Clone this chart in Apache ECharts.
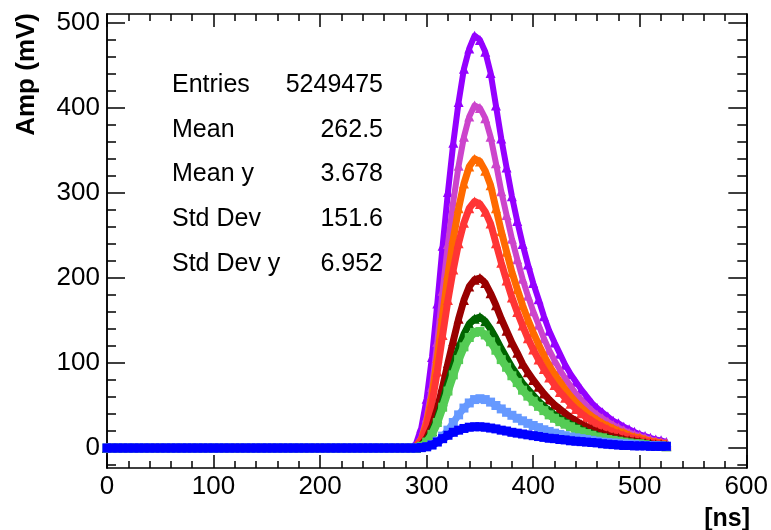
<!DOCTYPE html>
<html><head><meta charset="utf-8">
<script src="https://cdn.jsdelivr.net/npm/echarts@6/dist/echarts.min.js"></script>
<style>html,body{margin:0;padding:0;background:#fff}#c{width:771px;height:530px}</style>
</head><body><div id="c"></div>
<script>
// sample times (ns)
const timeNs = [
0,5,10,15,20,25,30,35,40,45,
50,55,60,65,70,75,80,85,90,95,
100,105,110,115,120,125,130,135,140,145,
150,155,160,165,170,175,180,185,190,195,
200,205,210,215,220,225,230,235,240,245,
250,255,260,265,270,275,280,285,290,295,
300,305,310,315,320,325,330,335,340,345,
350,355,360,365,370,375,380,385,390,395,
400,405,410,415,420,425,430,435,440,445,
450,455,460,465,470,475,480,485,490,495,
500,505,510,515,520,525];

const ampViolet = [
0,0,0,0,0,0,0,0,0,0, 0,0,0,0,0,0,0,0,0,0, 0,0,0,0,0,0,0,0,0,0, 0,0,0,0,0,0,0,0,0,0, 0,0,0,0,0,0,0,0,0,0, 0,0,0,0,0,0,0,0,
5,24,58,107,170,238,301,359,407,446,470,485,480,466,441,403,364,330,296,267,240,216,194,175,155,138,124,111,98,87,78,69,61,53,47,42,37,32,29,25,22,19,16,14,12,10,9,7];
const ampMagenta = [
0,0,0,0,0,0,0,0,0,0, 0,0,0,0,0,0,0,0,0,0, 0,0,0,0,0,0,0,0,0,0, 0,0,0,0,0,0,0,0,0,0, 0,0,0,0,0,0,0,0,0,0, 0,0,0,0,0,0,0,0,
2,12,36,72,125,185,240,290,332,366,390,403,400,388,366,335,302,274,246,222,199,179,161,145,129,115,103,92,82,73,64,57,50,44,39,35,31,27,24,21,18,16,14,12,10,8,7,6];
const ampOrange = [
0,0,0,0,0,0,0,0,0,0, 0,0,0,0,0,0,0,0,0,0, 0,0,0,0,0,0,0,0,0,0, 0,0,0,0,0,0,0,0,0,0, 0,0,0,0,0,0,0,0,0,0, 0,0,0,0,0,0,0,0,
2,10,30,62,106,156,204,246,282,311,331,340,337,326,309,282,255,231,207,187,168,151,136,122,109,97,87,78,69,61,54,48,42,37,33,29,26,23,20,18,15,13,12,10,8,7,6,5];
const ampRed = [
0,0,0,0,0,0,0,0,0,0, 0,0,0,0,0,0,0,0,0,0, 0,0,0,0,0,0,0,0,0,0, 0,0,0,0,0,0,0,0,0,0, 0,0,0,0,0,0,0,0,0,0, 0,0,0,0,0,0,0,0,
2,9,26,53,90,133,174,210,241,265,282,290,287,278,264,241,218,197,177,160,144,129,116,104,93,83,74,66,59,52,46,41,36,32,28,25,22,19,17,15,13,11,10,8,7,6,5,4];
const ampDarkRed = [
0,0,0,0,0,0,0,0,0,0, 0,0,0,0,0,0,0,0,0,0, 0,0,0,0,0,0,0,0,0,0, 0,0,0,0,0,0,0,0,0,0, 0,0,0,0,0,0,0,0,0,0, 0,0,0,0,0,0,0,0,
0,4,12,26,46,72,100,126,152,174,190,198,200,194,182,168,152,138,124,112,99,89,80,72,64,57,51,46,41,36,32,28,25,22,19,17,15,13,12,10,9,8,7,6,5,4,4,3];
const ampDarkGreen = [
0,0,0,0,0,0,0,0,0,0, 0,0,0,0,0,0,0,0,0,0, 0,0,0,0,0,0,0,0,0,0, 0,0,0,0,0,0,0,0,0,0, 0,0,0,0,0,0,0,0,0,0, 0,0,0,0,0,0,0,0,
0,3,9,20,35,55,77,97,117,134,146,152,154,149,140,129,117,106,95,86,76,69,62,55,49,44,39,35,31,28,25,22,19,17,15,13,12,10,9,8,7,6,5,5,4,3,3,2];
const ampLightGreen = [
0,0,0,0,0,0,0,0,0,0, 0,0,0,0,0,0,0,0,0,0, 0,0,0,0,0,0,0,0,0,0, 0,0,0,0,0,0,0,0,0,0, 0,0,0,0,0,0,0,0,0,0, 0,0,0,0,0,0,0,0,
0,2,7,16,30,48,67,86,104,119,130,136,137,133,125,115,104,95,85,77,68,61,55,49,44,39,35,31,28,25,22,19,17,15,13,12,10,9,8,7,6,5,5,4,3,3,2,2];
const ampLightBlue = [
0,0,0,0,0,0,0,0,0,0, 0,0,0,0,0,0,0,0,0,0, 0,0,0,0,0,0,0,0,0,0, 0,0,0,0,0,0,0,0,0,0, 0,0,0,0,0,0,0,0,0,0, 0,0,0,0,0,0,0,0,
0,0.5,1.5,4,8,14,21,30,39,47,53,57,58,57,54,50,46,42,38.5,35,32,29,26.5,24,21.5,19.5,17.5,16,14.5,13,12,11,10,9,8,7,6.5,6,5.5,5,4.5,4,3.5,3,3,2.5,2.5,2];
const ampBlue = [
0,0,0,0,0,0,0,0,0,0, 0,0,0,0,0,0,0,0,0,0, 0,0,0,0,0,0,0,0,0,0, 0,0,0,0,0,0,0,0,0,0, 0,0,0,0,0,0,0,0,0,0, 0,0,0,0,0,0,0,0,
0,0.5,1.5,3.5,7,11,15,18.5,21,23,24.5,25,25,24.5,23.5,22.5,21,20,18.5,17.5,16.5,15.5,14.5,13.5,12.5,11.5,11,10,9.5,8.5,8,7.5,7,6.5,6,5,4.5,4,3.5,3,3,2.5,2.5,2.5,2,2,2,2];

const seriesNames = ['violet','magenta','orange','red','darkred','darkgreen','lightgreen','lightblue','blue'];
const seriesValues = [ampViolet, ampMagenta, ampOrange, ampRed, ampDarkRed, ampDarkGreen, ampLightGreen, ampLightBlue, ampBlue];

const xTickLabels = [0,100,200,300,400,500,600];
const yMajorTicks = [0,100,200,300,400,500];
const yMinorTicks = [-20,20,40,60,80,120,140,160,180,220,240,260,280,320,340,360,380,420,440,460,480];

const statNames = ['Entries','Mean','Mean y','Std Dev','Std Dev y'];
const statValues = ['5249475','262.5','3.678','151.6','6.952'];

// styles
const colors = ['#9400ff','#cc44cc','#ff6a00','#ff3535','#990000','#006400','#55cc55','#6699ff','#0000ff'];
const symbols = ['triangle','triangle','triangle','triangle','triangle','triangle','rect','rect','rect'];
const sizes = [10,10,10,10,10,10,9,9,9];
const widths = [6,6,7,7,7,7,8,7,8];
const FONT = '"Liberation Sans", Arial, Helvetica, sans-serif';
const BLK = '#000';

const chart = echarts.init(document.getElementById('c'), null, {renderer:'canvas'});

const series = seriesValues.map((vals, k) => ({
  type: 'line',
  name: seriesNames[k],
  data: timeNs.map((x, i) => [x, vals[i]]),
  showSymbol: true,
  showAllSymbol: true,
  symbol: symbols[k],
  symbolSize: sizes[k],
  itemStyle: {color: colors[k], opacity: 1},
  lineStyle: {color: colors[k], width: widths[k], join: 'round'},
  xAxisIndex: 0, yAxisIndex: 0,
  silent: true,
  z: 2 + k
}));

const yMin = -23.5, yMax = 510.5;
function yAx(pos, ticks, len, labels) {
  return {
    type: 'value', min: yMin, max: yMax, position: pos,
    axisLine: {show: true, onZero: false, lineStyle: {color: BLK, width: 1.5}},
    axisTick: {show: true, inside: true, length: len, customValues: ticks, lineStyle: {color: BLK, width: 1.5}},
    axisLabel: labels ? {show: true, customValues: ticks, color: BLK, fontSize: 26, fontFamily: FONT, margin: 7} : {show: false},
    splitLine: {show: false}, minorTick: {show: false}
  };
}
function xAx(pos, labels) {
  return {
    type: 'value', min: 0, max: 600, interval: 100, position: pos,
    axisLine: {show: true, onZero: false, lineStyle: {color: BLK, width: 1.5}},
    axisTick: {show: true, inside: true, length: 13, lineStyle: {color: BLK, width: 1.5}},
    minorTick: {show: true, splitNumber: 5, length: 7, lineStyle: {color: BLK, width: 1.5}},
    axisLabel: labels ? {show: true, color: BLK, fontSize: 26, fontFamily: FONT, margin: 6,
      formatter: v => (xTickLabels.indexOf(v) >= 0 ? String(v) : '')} : {show: false},
    splitLine: {show: false}
  };
}

const graphics = [];
statNames.forEach((s, i) => {
  const y = 85 + i * 44.8;
  graphics.push({type: 'text', x: 172, y: y, silent: true,
    style: {text: s, fill: BLK, font: '25px ' + FONT, textAlign: 'left', textVerticalAlign: 'middle'}});
  graphics.push({type: 'text', x: 383, y: y, silent: true,
    style: {text: statValues[i], fill: BLK, font: '25px ' + FONT, textAlign: 'right', textVerticalAlign: 'middle'}});
});
graphics.push({type: 'text', x: 750, y: 519, silent: true,
  style: {text: '[ns]', fill: BLK, font: 'bold 25px ' + FONT, textAlign: 'right', textVerticalAlign: 'middle'}});
graphics.push({type: 'text', x: 27, y: 13, rotation: Math.PI / 2, silent: true,
  style: {text: 'Amp (mV)', fill: BLK, font: 'bold 26px ' + FONT, textAlign: 'right', textVerticalAlign: 'middle'}});

chart.setOption({
  animation: false,
  backgroundColor: '#fff',
  grid: {left: 107, top: 14, width: 643, height: 454, containLabel: false},
  xAxis: [xAx('bottom', true), xAx('top', false)],
  yAxis: [yAx('left', yMajorTicks, 18, true), yAx('left', yMinorTicks, 9, false),
          yAx('right', yMajorTicks, 18, false), yAx('right', yMinorTicks, 9, false)],
  series: series,
  graphic: graphics
});
</script>
</body></html>
